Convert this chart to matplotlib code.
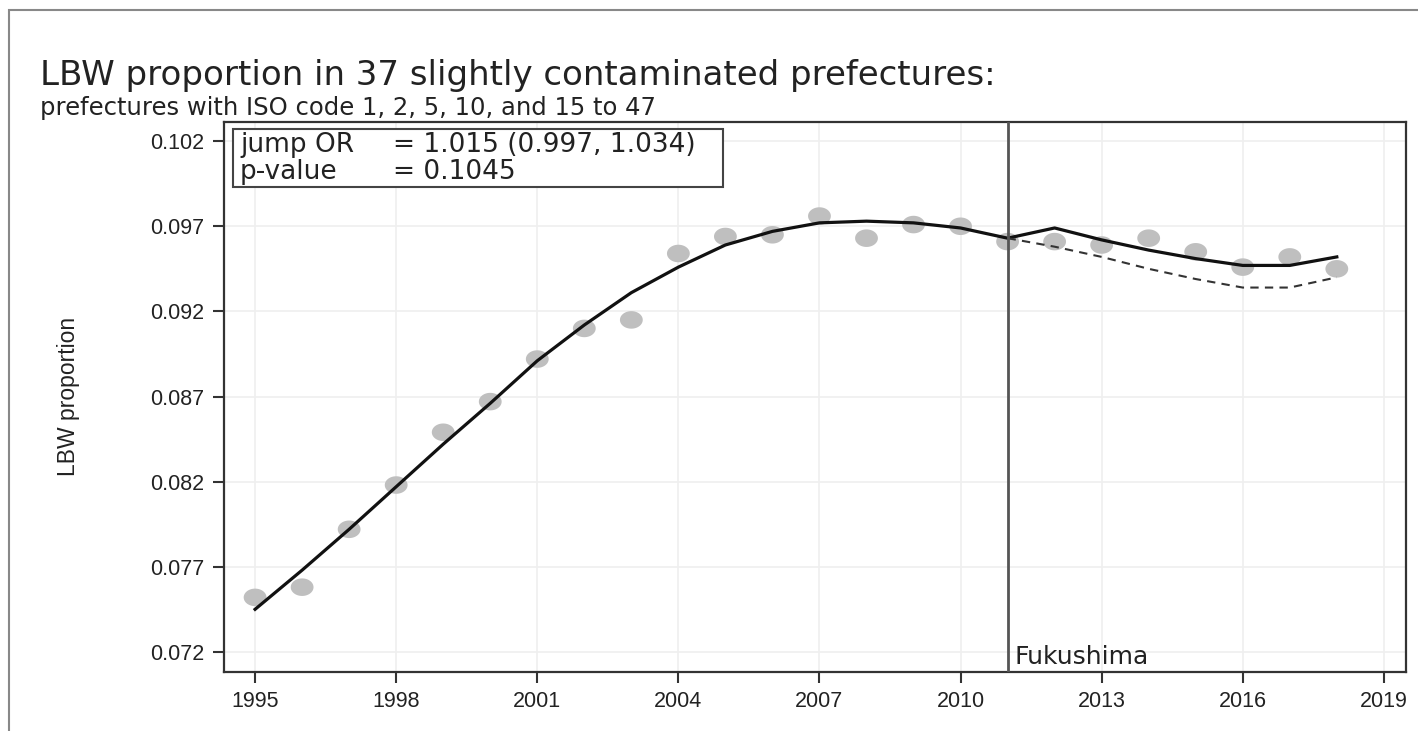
import numpy as np
import matplotlib
matplotlib.use('Agg')
import matplotlib.pyplot as plt
from matplotlib.patches import Rectangle
from matplotlib.path import Path

plt.rcParams['font.family'] = ['Liberation Sans', 'DejaVu Sans']

# data
years = list(range(1995, 2019))
observed = [0.0752, 0.0758, 0.0792, 0.0818, 0.0849, 0.0867, 0.0892, 0.0910, 0.0915,
            0.0954, 0.0964, 0.0965, 0.0976, 0.0963, 0.0971, 0.0970, 0.0961,
            0.0961, 0.0959, 0.0963, 0.0955, 0.0946, 0.0952, 0.0945]
fitted = [0.0745, 0.0768, 0.0792, 0.0817, 0.0842, 0.0866, 0.0891, 0.0912, 0.0931,
          0.0946, 0.0959, 0.0967, 0.0972, 0.0973, 0.0972, 0.0969, 0.0963,
          0.0969, 0.0962, 0.0956, 0.0951, 0.0947, 0.0947, 0.0952]
cf_years = list(range(2011, 2019))
counterfactual = [0.0963, 0.0958, 0.0952, 0.0945, 0.0939, 0.0934, 0.0934, 0.0940]

xticks = [1995, 1998, 2001, 2004, 2007, 2010, 2013, 2016, 2019]
yticks = [0.072, 0.077, 0.082, 0.087, 0.092, 0.097, 0.102]

# slightly flattened dot, like in the original
t = np.linspace(0, 2 * np.pi, 60)
ell = Path(np.column_stack([1.3 * np.cos(t), np.sin(t)]), closed=True)

fig = plt.figure(figsize=(14.18, 7.31), dpi=100)
ax = fig.add_axes([0.158, 0.081, 0.8335, 0.752])

ax.scatter(years, observed, s=270, marker=ell, color='#bfbfbf', edgecolors='none', zorder=2)
ax.plot(years, fitted, color='#111111', lw=2.3, zorder=3)
ax.plot(cf_years, counterfactual, color='#333333', lw=1.5, ls=(0, (4, 3)), zorder=3)
ax.axvline(2011, color='#555555', lw=2, zorder=4)
ax.text(2011.15, 0.07128, 'Fukushima', fontsize=18, color='#222222', va='baseline',
        family='DejaVu Sans')

ax.set_xlim(1994.34, 2019.47)
ax.set_ylim(0.07083, 0.10312)
ax.set_xticks(xticks)
ax.set_yticks(yticks)
ax.set_yticklabels([f'{v:.3f}' for v in yticks])
ax.grid(True, color='#efefef', lw=1.2)
ax.set_axisbelow(True)
ax.tick_params(labelsize=15.5, length=8, width=1.5, color='#333333', labelcolor='#222222', pad=6)
for sp in ax.spines.values():
    sp.set_color('#333333')
    sp.set_linewidth(1.6)
ax.set_ylabel('LBW proportion', fontsize=16.5, color='#222222')
ax.yaxis.set_label_coords(-0.122, 0.5)

# jump OR box
ax.add_patch(Rectangle((0.0076, 0.882), 0.4144, 0.105, transform=ax.transAxes,
                       fill=True, fc='white', ec='#444444', lw=1.5, zorder=5))
ax.text(0.0135, 0.958, 'jump OR', transform=ax.transAxes, fontsize=19, va='center',
        family='DejaVu Sans', color='#222222', zorder=6)
ax.text(0.0135, 0.909, 'p-value', transform=ax.transAxes, fontsize=19, va='center',
        family='DejaVu Sans', color='#222222', zorder=6)
ax.text(0.143, 0.958, '= 1.015 (0.997, 1.034)', transform=ax.transAxes, fontsize=19,
        va='center', family='DejaVu Sans', color='#222222', zorder=6)
ax.text(0.143, 0.909, '= 0.1045', transform=ax.transAxes, fontsize=19, va='center',
        family='DejaVu Sans', color='#222222', zorder=6)

fig.text(0.028, 0.884, 'LBW proportion in 37 slightly contaminated prefectures:',
         fontsize=24.5, color='#222222', va='baseline', family='DejaVu Sans')
fig.text(0.028, 0.843, 'prefectures with ISO code 1, 2, 5, 10, and 15 to 47',
         fontsize=17.5, color='#222222', va='baseline', family='DejaVu Sans')

# frame round the figure
fig.patches.append(Rectangle((0.006, -0.05), 1.1, 1.036, transform=fig.transFigure,
                             fill=False, ec='#888888', lw=1.5))

fig.savefig('out.png', dpi=100)
